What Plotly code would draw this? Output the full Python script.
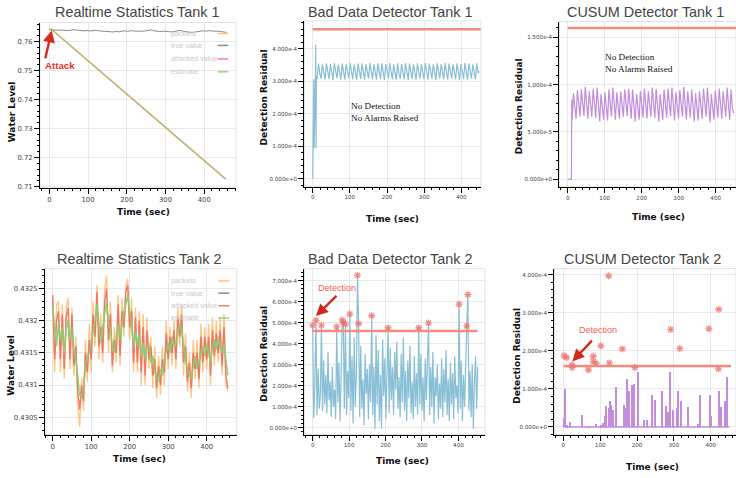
import numpy as np
import plotly.graph_objects as go

W, H = 736, 478
E4 = 1e-4

# ---------------- data ----------------
TIME_TICKS = [0, 100, 200, 300, 400]
TIME_TICK_TEXT = ["0", "100", "200", "300", "400"]

# Tank 1 realtime statistics
T1_TRUE_STEP = 7.5
T1_TRUE = [
    .76400, .76395, .76385, .76392, .76378, .76370, .76382, .76375, .76405, .76390,
    .76372, .76380, .76365, .76375, .76360, .76372, .76385, .76365, .76355, .76370,
    .76360, .76340, .76325, .76345, .76330, .76355, .76365, .76345, .76372, .76360,
    .76352, .76368, .76350, .76362, .76375, .76398, .76370, .76355, .76340, .76352,
    .76335, .76342, .76328, .76345, .76360, .76378, .76350, .76335, .76318, .76308,
    .76322, .76345, .76360, .76368, .76355, .76372, .76360, .76365, .76350, .76342,
    .76320, .76310]
T1_ATTACK_T = [0, 6, 455]
T1_PACKETS = [0.7642, 0.7641, 0.7127]
T1_ATTACKED = [0.7642, 0.7641, 0.7126]
T1_ESTIMATE = [0.7642, 0.7641, 0.7127]
T1_Y_TICKS = [0.71, 0.72, 0.73, 0.74, 0.75, 0.76]
T1_Y_TICK_TEXT = ["0.71", "0.72", "0.73", "0.74", "0.75", "0.76"]

# Tank 1 bad data detector (values in 1e-4)
BDD1_START_T = [0, 1, 2, 3, 4, 5, 6, 7, 8, 9, 10]
BDD1_START_E4 = [0, 3.05, 1.0, 3.05, 0.95, 3.05, 1.05, 3.05, 4.12, 0.95, 3.15]
BDD1_SAW_T0 = 12.0
BDD1_SAW_STEP = 3.55
BDD1_SAW_E4 = [
    3.06, 3.54, 3.24, 3.08, 3.52, 3.27, 3.05, 3.55, 3.22, 3.07, 3.53, 3.26,
    3.04, 3.56, 3.25, 3.09, 3.51, 3.23, 3.06, 3.55, 3.28, 3.05, 3.53, 3.24,
    3.08, 3.56, 3.22, 3.06, 3.52, 3.27, 3.04, 3.54, 3.25, 3.07, 3.55, 3.23,
    3.05, 3.53, 3.26, 3.08, 3.56, 3.24, 3.06, 3.52, 3.22, 3.05, 3.55, 3.27,
    3.07, 3.54, 3.25, 3.04, 3.53, 3.23, 3.09, 3.56, 3.26, 3.06, 3.52, 3.24,
    3.05, 3.55, 3.22, 3.08, 3.53, 3.27, 3.06, 3.56, 3.25, 3.04, 3.54, 3.23,
    3.07, 3.52, 3.26, 3.05, 3.55, 3.24, 3.08, 3.53, 3.22, 3.06, 3.56, 3.27,
    3.05, 3.54, 3.25, 3.07, 3.52, 3.23, 3.04, 3.55, 3.26, 3.09, 3.53, 3.24,
    3.06, 3.56, 3.22, 3.05, 3.54, 3.27, 3.08, 3.52, 3.25, 3.06, 3.55, 3.23,
    3.04, 3.53, 3.26, 3.07, 3.56, 3.24, 3.05, 3.54, 3.22, 3.08, 3.52, 3.27,
    3.06, 3.55, 3.25, 3.30]
BDD1_Y_TICKS = [0, 1e-4, 2e-4, 3e-4, 4e-4]
BDD1_Y_TICK_TEXT = ["0.000e+0", "1.000e-4", "2.000e-4", "3.000e-4", "4.000e-4"]

# Tank 1 CUSUM detector (values in 1e-4)
CUSUM1_START_T = [0, 10, 11]
CUSUM1_START_E4 = [0, 0, 0.84]
CUSUM1_SAW_T0 = 12.0
CUSUM1_SAW_STEP = 3.55
CUSUM1_SAW_E4 = [
    0.62, 0.91, 0.74, 0.64, 0.94, 0.76, 0.66, 0.95, 0.78, 0.67, 0.98, 0.80,
    0.64, 0.93, 0.76, 0.66, 0.96, 0.79, 0.65, 0.97, 0.78, 0.61, 0.90, 0.73,
    0.63, 0.92, 0.75, 0.62, 0.95, 0.76, 0.66, 0.97, 0.79, 0.63, 0.92, 0.75,
    0.64, 0.93, 0.76, 0.66, 0.95, 0.78, 0.67, 0.96, 0.79, 0.64, 0.95, 0.77,
    0.61, 0.90, 0.73, 0.63, 0.93, 0.75, 0.65, 0.96, 0.78, 0.64, 0.93, 0.76,
    0.66, 0.97, 0.79, 0.65, 0.96, 0.78, 0.61, 0.90, 0.73, 0.63, 0.95, 0.76,
    0.65, 0.96, 0.78, 0.67, 0.97, 0.80, 0.62, 0.92, 0.75, 0.64, 0.94, 0.77,
    0.66, 0.98, 0.79, 0.63, 0.93, 0.75, 0.65, 0.95, 0.78, 0.61, 0.91, 0.73,
    0.62, 0.93, 0.75, 0.64, 0.96, 0.77, 0.66, 0.97, 0.79, 0.60, 0.90, 0.72,
    0.63, 0.94, 0.76, 0.65, 0.96, 0.78, 0.64, 0.93, 0.76, 0.66, 0.97, 0.79,
    0.63, 0.95, 0.76, 0.70]
CUSUM1_Y_TICKS = [0, 0.5e-4, 1e-4, 1.5e-4]
CUSUM1_Y_TICK_TEXT = ["0.000e+0", "5.000e-5", "1.000e-4", "1.500e-4"]

# Tank 2 realtime statistics
T2_STEP = 5
T2_ESTIMATE = [
    .43222, .43185, .43160, .43195, .43170, .43190, .43150, .43185, .43200, .43170,
    .43190, .43155, .43140, .43115, .43085, .43080, .43095, .43130, .43145, .43150,
    .43165, .43185, .43200, .43225, .43190, .43165, .43190, .43210, .43230, .43195,
    .43185, .43160, .43150, .43175, .43195, .43170, .43190, .43215, .43225, .43240,
    .43215, .43195, .43160, .43185, .43160, .43180, .43145, .43165, .43140, .43160,
    .43165, .43135, .43145, .43120, .43110, .43105, .43125, .43115, .43140, .43155,
    .43165, .43150, .43175, .43160, .43165, .43180, .43195, .43185, .43160, .43140,
    .43125, .43115, .43110, .43130, .43145, .43125, .43135, .43150, .43160, .43145,
    .43165, .43150, .43135, .43160, .43170, .43155, .43175, .43160, .43150, .43165,
    .43135, .43115]
T2_ATTACKED = [
    .43240, .43140, .43200, .43215, .43140, .43210, .43125, .43205, .43220, .43140,
    .43210, .43130, .43160, .43090, .43062, .43100, .43075, .43150, .43120, .43170,
    .43140, .43210, .43175, .43245, .43160, .43190, .43150, .43230, .43250, .43170,
    .43210, .43130, .43170, .43150, .43225, .43145, .43215, .43190, .43245, .43255,
    .43190, .43215, .43135, .43205, .43135, .43200, .43120, .43190, .43115, .43185,
    .43140, .43160, .43115, .43140, .43095, .43130, .43100, .43140, .43120, .43180,
    .43140, .43175, .43150, .43185, .43140, .43205, .43175, .43210, .43135, .43160,
    .43105, .43135, .43095, .43150, .43125, .43150, .43110, .43175, .43135, .43175,
    .43140, .43175, .43115, .43185, .43145, .43180, .43150, .43185, .43130, .43190,
    .43115, .43095]
T2_PACKETS = [
    .43235, .43120, .43225, .43230, .43120, .43225, .43110, .43220, .43235, .43125,
    .43220, .43115, .43175, .43070, .43035, .43110, .43060, .43170, .43105, .43195,
    .43120, .43230, .43160, .43255, .43140, .43210, .43135, .43250, .43270, .43150,
    .43230, .43120, .43190, .43135, .43240, .43130, .43235, .43175, .43255, .43265,
    .43170, .43235, .43120, .43220, .43120, .43215, .43100, .43210, .43100, .43205,
    .43125, .43175, .43095, .43160, .43080, .43145, .43085, .43160, .43100, .43200,
    .43125, .43190, .43130, .43200, .43125, .43220, .43160, .43225, .43115, .43180,
    .43090, .43150, .43080, .43170, .43110, .43170, .43095, .43195, .43120, .43190,
    .43125, .43195, .43100, .43205, .43130, .43200, .43135, .43205, .43115, .43210,
    .43100, .43090]
T2_Y_TICKS = [0.4305, 0.431, 0.4315, 0.432, 0.4325]
T2_Y_TICK_TEXT = ["0.4305", "0.431", "0.4315", "0.432", "0.4325"]

# Tank 2 bad data detector (values in 1e-4)
BDD2_STEP = 3
BDD2_E4 = [
    4.87, 0.45, 2.1, 5.11, 0.6, 2.8, 0.9, 1.5, 4.87, 0.8,
    3.2, 1.1, 2.5, 0.7, 3.6, 1.3, 2.2, 0.5, 2.9, 1.0,
    1.8, 0.4, 4.79, 1.2, 3.1, 0.3, 2.4, 5.12, 5.0, 0.9,
    4.92, 0.6, 2.7, 1.4, 5.41, 0.8, 3.4, 0.2, 4.3, 1.0,
    2.6, 7.25, 4.95, 0.5, 3.9, 0.9, 2.3, 0.1, 3.5, 1.6,
    2.8, 0.4, 3.0, 1.2, 5.33, 0.6, 2.9, -0.05, 4.4, 1.1,
    3.7, 0.3, 2.5, -0.05, 4.2, 1.5, 3.3, 0.4, 2.6, 4.75,
    0.7, 3.8, 1.3, 2.9, 0.6, 3.6, 1.8, 4.1, 0.9, 2.4,
    0.5, 3.5, 1.2, 4.3, 0.8, 2.7, 0.3, 3.2, 1.4, 3.9,
    0.7, 2.2, 0.4, 3.4, 1.0, 2.6, 0.6, 4.75, 1.1, 3.5,
    0.8, 2.4, 0.3, 3.3, 1.3, 2.7, 4.98, 0.6, 2.9, 1.0,
    3.6, 0.2, 2.4, 1.5, 3.0, 0.4, 2.1, 0.9, 3.3, 0.5,
    2.8, 1.2, 3.7, 0.6, 2.3, 0.3, 3.1, 1.1, 2.6, 0.4,
    3.4, 1.4, 2.0, 0.7, 5.87, 0.9, 3.2, 0.3, 2.5, 1.0,
    3.6, 4.84, 6.34, 0.8, 2.7, 0.5, 3.0, -0.05, 2.2, 3.4,
    0.9, 2.9]
BDD2_DET_T = [0, 9, 24, 66, 81, 84, 90, 102, 123, 126, 162, 207, 291, 318, 402, 423, 426]
BDD2_DET_E4 = [4.87, 5.11, 4.87, 4.79, 5.12, 5.00, 4.92, 5.41, 7.25, 4.95, 5.33, 4.75,
               4.75, 4.98, 5.87, 4.84, 6.34]
BDD2_Y_TICKS = [0, 1e-4, 2e-4, 3e-4, 4e-4, 5e-4, 6e-4, 7e-4]
BDD2_Y_TICK_TEXT = ["0.000e+0", "1.000e-4", "2.000e-4", "3.000e-4", "4.000e-4",
                    "5.000e-4", "6.000e-4", "7.000e-4"]

# Tank 2 CUSUM detector (values in 1e-4)
CUSUM2_BASE_T = [0, 450]
CUSUM2_BASE_E4 = [0, 0]
CUSUM2_SPIKE_T = [2, 5, 10, 20, 52, 70, 90, 104, 110, 114, 118, 125, 128, 131, 136,
                  145, 165, 168, 172, 175, 179, 187, 192, 204, 219, 228, 241, 251, 269,
                  279, 286, 290, 300, 310, 313, 321, 340, 367, 372, 398, 403, 423, 429,
                  441, 445]
CUSUM2_SPIKE_E4 = [0.25, 1.02, 0.05, 0.15, 0.33, 0.02, 0.08, 0.05, 0.12, 0.30, 0.55,
                   0.50, 0.68, 0.60, 0.45, 1.07, 0.60, 0.50, 0.35, 1.28, 0.95, 1.12,
                   1.15, 1.45, 0.20, 0.18, 0.85, 0.72, 0.96, 0.55, 0.40, 1.45, 0.45,
                   0.50, 0.95, 0.70, 0.53, 0.10, 0.85, 0.85, 0.30, 0.95, 0.53, 0.70, 1.32]
CUSUM2_DET_T = [2, 9, 24, 24, 68, 81, 81, 89, 102, 123, 125, 160, 194, 291, 316, 395, 422, 421]
CUSUM2_DET_E4 = [1.87, 1.82, 1.63, 1.56, 1.50, 1.86, 1.72, 1.67, 2.13, 3.97, 1.68, 2.05,
                 1.56, 2.56, 2.06, 2.58, 3.09, 1.53]
CUSUM2_Y_TICKS = [0, 1e-4, 2e-4, 3e-4, 4e-4]
CUSUM2_Y_TICK_TEXT = ["0.000e+0", "1.000e-4", "2.000e-4", "3.000e-4", "4.000e-4"]

THRESH_T = [0, 452]
BDD_THRESHOLD = 4.6e-4
CUSUM_THRESHOLD = 1.6e-4

TITLES = ["Realtime Statistics Tank 1", "Bad Data Detector Tank 1", "CUSUM Detector Tank 1",
          "Realtime Statistics Tank 2", "Bad Data Detector Tank 2", "CUSUM Detector Tank 2"]
LEGEND_LABELS = ["packets", "true value", "attacked value", "estimate"]

# ---------------- styles ----------------
ORANGE = "rgba(253,178,92,0.75)"
GRAY = "#8a8a8a"
RED = "rgba(240,96,86,0.8)"
GREEN = "rgba(134,208,118,0.9)"
BLUE = "#88bfd6"
PURPLE = "#c38ddb"
THRESH_COLOR = "#f58b7e"
STAR_COLOR = "rgba(238,115,110,0.8)"

fig = go.Figure()


def ax_names(s):
    return ("x" if s == 1 else f"x{s}", "y" if s == 1 else f"y{s}")


def line(s, x, y, color, width=1.2):
    xa, ya = ax_names(s)
    fig.add_trace(go.Scatter(x=x, y=y, mode="lines", xaxis=xa, yaxis=ya, showlegend=False,
                             line=dict(color=color, width=width), hoverinfo="skip"))


def stars(s, x, y):
    xa, ya = ax_names(s)
    fig.add_trace(go.Scatter(x=x, y=y, mode="markers", xaxis=xa, yaxis=ya, showlegend=False,
                             hoverinfo="skip",
                             marker=dict(symbol="circle", size=6, color="rgba(248,165,158,0.35)",
                                         line=dict(width=0))))
    fig.add_trace(go.Scatter(x=x, y=y, mode="markers", xaxis=xa, yaxis=ya, showlegend=False,
                             hoverinfo="skip",
                             marker=dict(symbol="asterisk-open", size=6, color=STAR_COLOR,
                                         line=dict(color=STAR_COLOR, width=1.1))))


# Panel 1
t1_true_t = np.arange(len(T1_TRUE)) * T1_TRUE_STEP
line(1, T1_ATTACK_T, T1_PACKETS, "rgba(253,178,92,0.7)", 1.5)
line(1, t1_true_t, T1_TRUE, GRAY, 1.0)
line(1, T1_ATTACK_T, T1_ATTACKED, "rgba(240,96,86,0.4)", 1.4)
line(1, T1_ATTACK_T, T1_ESTIMATE, "rgba(134,208,118,0.65)", 1.2)

# Panel 2
bdd1_t = list(BDD1_START_T) + list(BDD1_SAW_T0 + BDD1_SAW_STEP * np.arange(len(BDD1_SAW_E4)))
bdd1_v = [v * E4 for v in BDD1_START_E4 + BDD1_SAW_E4]
line(2, bdd1_t, bdd1_v, BLUE, 1.2)
line(2, THRESH_T, [BDD_THRESHOLD] * 2, THRESH_COLOR, 2.5)

# Panel 3
cus1_t = list(CUSUM1_START_T) + list(CUSUM1_SAW_T0 + CUSUM1_SAW_STEP * np.arange(len(CUSUM1_SAW_E4)))
cus1_v = [v * E4 for v in CUSUM1_START_E4 + CUSUM1_SAW_E4]
line(3, cus1_t, cus1_v, PURPLE, 1.2)
line(3, [0, 460], [CUSUM_THRESHOLD] * 2, THRESH_COLOR, 2.5)

# Panel 4
t2_t = np.arange(len(T2_ESTIMATE)) * T2_STEP
line(4, t2_t, T2_PACKETS, ORANGE, 1.4)
line(4, t2_t, T2_ATTACKED, RED, 1.4)
line(4, t2_t, T2_ESTIMATE, GREEN, 1.6)

# Panel 5
bdd2_t = np.arange(len(BDD2_E4)) * BDD2_STEP
line(5, bdd2_t, [v * E4 for v in BDD2_E4], BLUE, 1.2)
line(5, THRESH_T, [BDD_THRESHOLD] * 2, THRESH_COLOR, 2.5)
stars(5, BDD2_DET_T, [v * E4 for v in BDD2_DET_E4])

# Panel 6
xa6, ya6 = ax_names(6)
fig.add_trace(go.Bar(x=CUSUM2_SPIKE_T, y=[v * E4 for v in CUSUM2_SPIKE_E4], width=3.5,
                     marker=dict(color=PURPLE, line=dict(width=0)), xaxis=xa6, yaxis=ya6,
                     showlegend=False, hoverinfo="skip"))
line(6, CUSUM2_BASE_T, [v * E4 for v in CUSUM2_BASE_E4], PURPLE, 1.5)
line(6, [0, 455], [CUSUM_THRESHOLD] * 2, THRESH_COLOR, 2.5)
stars(6, CUSUM2_DET_T, [v * E4 for v in CUSUM2_DET_E4])

# ---------------- layout ----------------
PANELS = [
    dict(px=(40, 236), py=(22.7, 189), xr=[-24, 482], yr=[0.7096, 0.7665],
         yt=T1_Y_TICKS, ytt=T1_Y_TICK_TEXT, y0=0.70, ymd=0.002, tf=6.8),
    dict(px=(304.3, 481), py=(21, 187.7), xr=[-22.6, 453], yr=[-0.235e-4, 4.855e-4],
         yt=BDD1_Y_TICKS, ytt=BDD1_Y_TICK_TEXT, y0=0, ymd=0.2e-4, tf=5.6),
    dict(px=(559.3, 736), py=(21.7, 188), xr=[-22.7, 455], yr=[-0.081e-4, 1.668e-4],
         yt=CUSUM1_Y_TICKS, ytt=CUSUM1_Y_TICK_TEXT, y0=0, ymd=0.1e-4, tf=5.6),
    dict(px=(45, 236.7), py=(270.3, 437.3), xr=[-20, 478], yr=[0.43023, 0.43281],
         yt=T2_Y_TICKS, ytt=T2_Y_TICK_TEXT, y0=0.43, ymd=0.0001, tf=6.8),
    dict(px=(304.3, 485), py=(270.3, 437.3), xr=[-23, 473], yr=[-0.33e-4, 7.57e-4],
         yt=BDD2_Y_TICKS, ytt=BDD2_Y_TICK_TEXT, y0=0, ymd=0.2e-4, tf=5.6),
    dict(px=(554.3, 736), py=(270.3, 437.3), xr=[-24.5, 468.6], yr=[-0.2e-4, 4.16e-4],
         yt=CUSUM2_Y_TICKS, ytt=CUSUM2_Y_TICK_TEXT, y0=0, ymd=0.2e-4, tf=5.6),
]

layout = dict(width=W, height=H, margin=dict(l=0, r=0, t=0, b=0),
              paper_bgcolor="white", plot_bgcolor="white", showlegend=False,
              bargap=0, shapes=[], annotations=[], hovermode=False)

TICK_FONT_FAMILY = "DejaVu Sans"
for i, p in enumerate(PANELS):
    s = i + 1
    sfx = "" if s == 1 else str(s)
    common = dict(showline=True, linecolor="black", linewidth=1, ticks="outside", ticklen=5,
                  tickcolor="black", tickwidth=1, showgrid=True, gridcolor="#e8e8e8",
                  gridwidth=1, zeroline=False, tickmode="array",
                  tickfont=dict(family=TICK_FONT_FAMILY, size=p["tf"], color="#444"))
    layout["xaxis" + sfx] = dict(common, domain=[p["px"][0] / W, p["px"][1] / W],
                                 range=p["xr"], anchor="y" + sfx,
                                 tickvals=TIME_TICKS, ticktext=TIME_TICK_TEXT,
                                 minor=dict(ticks="outside", ticklen=2.5, tickcolor="black",
                                            tickmode="linear", tick0=0, dtick=20, showgrid=False))
    layout["yaxis" + sfx] = dict(common, domain=[1 - p["py"][1] / H, 1 - p["py"][0] / H],
                                 range=p["yr"], anchor="x" + sfx,
                                 tickvals=p["yt"], ticktext=p["ytt"],
                                 minor=dict(ticks="outside", ticklen=2.5, tickcolor="black",
                                            tickmode="linear", tick0=p["y0"], dtick=p["ymd"],
                                            showgrid=False))
    xd = "x domain" if s == 1 else f"x{s} domain"
    yd = "y domain" if s == 1 else f"y{s} domain"
    layout["shapes"].append(dict(type="rect", xref=xd, yref=yd, x0=0, x1=1, y0=0, y1=1,
                                 line=dict(color="#e2e2e2", width=1), layer="below"))


def ann(cx, cy, text, **kw):
    d = dict(x=cx / W, y=1 - cy / H, xref="paper", yref="paper", text=text,
             showarrow=False, xanchor="center", yanchor="middle")
    d.update(kw)
    layout["annotations"].append(d)


TITLE_POS = [(137, 12), (390, 12), (645, 12.5), (139, 261), (390, 261), (642, 261)]
TITLE_FONT = dict(family="Liberation Sans", size=14.4, color="#444")
for (cx, cy), t in zip(TITLE_POS, TITLES):
    ann(cx, cy, t, font=TITLE_FONT)

AXT_FONT = dict(family="DejaVu Sans", size=9, color="#111")
YT_POS = [(12, 113, "Water Level"), (264, 98, "Detection Residual"), (519, 107, "Detection Residual"),
          (11, 368, "Water Level"), (264, 356, "Detection Residual"), (517, 358, "Detection Residual")]
for cx, cy, t in YT_POS:
    ann(cx, cy, "<b>%s</b>" % t, font=AXT_FONT, textangle=-90)
XT_POS = [(143, 213), (393, 220), (658, 218), (139, 462), (402, 464), (652, 470)]
for cx, cy in XT_POS:
    ann(cx, cy, "<b>Time (sec)</b>", font=AXT_FONT)

# in-plot legends
LEG_FONT = dict(family="Liberation Sans", size=7.2, color="#c9c9c9")
LEG_COLORS = [ORANGE, GRAY, RED, GREEN]
for x_text, x_line, ys in [(169, (217.7, 228.3), (33.7, 45.7, 59.3, 72.3)),
                           (169.3, (218.3, 229.3), (282.7, 295, 307.7, 320))]:
    for lab, col, yy in zip(LEGEND_LABELS, LEG_COLORS, ys):
        ann(x_text, yy, lab, font=LEG_FONT, xanchor="left")
        layout["shapes"].append(dict(type="line", xref="paper", yref="paper",
                                     x0=x_line[0] / W, x1=x_line[1] / W,
                                     y0=1 - yy / H, y1=1 - yy / H,
                                     line=dict(color=col, width=1.5)))

# No detection notes
NOTE_FONT = dict(family="Liberation Serif", size=9.2, color="#111")
ann(349, 112.5, "No Detection<br>No Alarms Raised", font=NOTE_FONT, xanchor="left", align="left")
ann(603.3, 63.3, "No Detection<br>No Alarms Raised", font=NOTE_FONT, xanchor="left", align="left")

# Attack annotation
ann(59.8, 66, "<b>Attack</b>", font=dict(family="Liberation Sans", size=9.7, color="#e3302a"))
layout["annotations"].append(dict(x=6.2, y=0.76377, xref="x", yref="y", text="", showarrow=True,
                                  ax=-6.7, ay=29.3, arrowhead=2, arrowsize=1, arrowwidth=2.4,
                                  arrowcolor="#d92a22", standoff=0))
# Detection annotations
DET_FONT = dict(family="Liberation Sans", size=9, color="#f0605a")
ann(337, 289.7, "Detection", font=DET_FONT)
layout["annotations"].append(dict(x=9, y=5.31e-4, xref="x5", yref="y5", text="", showarrow=True,
                                  ax=22, ay=-21.7, arrowhead=2, arrowsize=1, arrowwidth=2.4,
                                  arrowcolor="#d0281e", standoff=0))
ann(598, 332.3, "Detection", font=DET_FONT)
layout["annotations"].append(dict(x=24.4, y=1.72e-4, xref="x6", yref="y6", text="", showarrow=True,
                                  ax=21, ay=-22.4, arrowhead=2, arrowsize=1, arrowwidth=2.4,
                                  arrowcolor="#d0281e", standoff=0))

fig.update_layout(**layout)
fig.write_html("out.html", config={"displayModeBar": False},
               post_script="document.body.style.margin='0px';document.body.style.padding='0px';")
